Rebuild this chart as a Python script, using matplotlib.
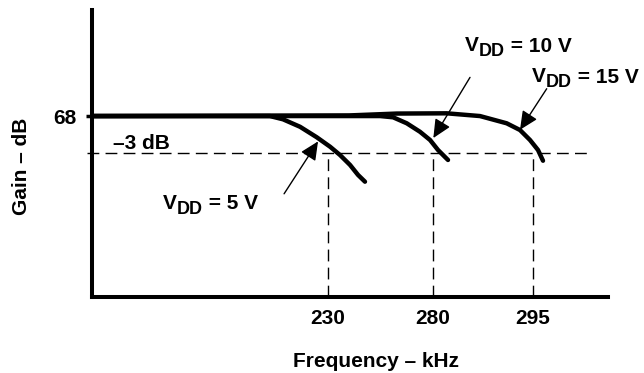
#!/usr/bin/env python

import numpy as np
import matplotlib
matplotlib.use("Agg")
import matplotlib.pyplot as plt

plt.rcParams['font.family'] = ['Liberation Sans', 'DejaVu Sans']
plt.rcParams['font.weight'] = 'bold'

# gain curves (kHz, dB)
freq_5v = [100, 150, 198, 205.2, 214.6, 223.8, 231.0, 235.7, 240.5, 244.3, 247.6]
gain_5v = [68.0, 68.0, 68.0, 67.74, 67.14, 66.30, 65.54, 64.88, 64.08, 63.28, 62.74]

freq_10v = [100, 200, 254.8, 261.0, 267.5, 273.8, 278.6, 280.75, 282.25]
gain_10v = [68.0, 68.0, 68.0, 67.9, 67.42, 66.74, 66.08, 65.28, 64.48]

freq_15v = [100, 240, 262.7, 282.05, 287.05, 291.05, 293.05, 294.55, 296.0, 297.0]
gain_15v = [68.0, 68.05, 68.2, 68.22, 68.0, 67.42, 66.88, 66.08, 65.28, 64.42]

mid_gain = 68
cutoff_freqs = [230, 280, 295]
xtick_labels = ['230', '280', '295']
ytick_labels = ['68']

# the frequency axis of the original is not to scale, so stretch it piecewise
KNOT_F = [0, 100, 230, 280, 295, 310, 400]
KNOT_U = [-89.5, 92, 328, 433, 533, 608, 1058]

def fwd(f):
    return np.interp(f, KNOT_F, KNOT_U)

def inv(u):
    return np.interp(u, KNOT_U, KNOT_F)


def vddLabel(ax, x, y, rest):
    # V with a lowered DD, then the rest of the text
    t1 = ax.text(x, y, "V", fontsize=15, va='baseline', ha='left')
    t2 = ax.annotate("DD", xy=(1, 0), xycoords=t1, xytext=(0, -3.5),
                     textcoords='offset points', fontsize=13, va='bottom', ha='left')
    ax.annotate(rest, xy=(1, 0), xycoords=t2, xytext=(0, 3.2),
                textcoords='offset points', fontsize=15, va='bottom', ha='left')


def pointAt(ax, tip, tail):
    ax.annotate("", xy=tip, xytext=tail,
                arrowprops=dict(arrowstyle='-|>,head_length=0.75,head_width=0.35',
                                mutation_scale=15, lw=1, color='black',
                                shrinkA=0, shrinkB=0))


fig = plt.figure(figsize=(6.44, 3.73), dpi=100)
ax = fig.add_axes([0.1429, 0.2038, 0.8012, 0.7694])
ax.set_xscale('function', functions=(fwd, inv))
ax.set_xlim(100, 310)
ax.set_ylim(53.5, 76.5)

for s in ['top', 'right']:
    ax.spines[s].set_visible(False)
for s in ['left', 'bottom']:
    ax.spines[s].set_linewidth(2.9)

dash = (0, (8.5, 4.5))
cut_level = mid_gain - 3
ax.plot([97.2, 306.6], [cut_level, cut_level], color='black', lw=1,
        linestyle=dash, clip_on=False)
ax.vlines(cutoff_freqs, 53.5, cut_level, colors='black', lw=1, linestyles=dash)

for f, g in [(freq_5v, gain_5v), (freq_10v, gain_10v), (freq_15v, gain_15v)]:
    ax.plot(f, g, color='black', lw=3.2, solid_capstyle='round')

ax.set_xticks(cutoff_freqs)
ax.set_xticklabels(xtick_labels, fontsize=15)
ax.set_yticks([mid_gain])
ax.set_yticklabels(ytick_labels, fontsize=15)
ax.tick_params(axis='x', length=0, pad=8.5)
ax.tick_params(axis='y', length=4, width=2.5, pad=7)

ax.text(111.6, 65.32, "\u20133 dB", fontsize=15, va='baseline', ha='left')

vddLabel(ax, 138.9, 60.58, " = 5 V")
vddLabel(ax, 284.8, 73.2, " = 10 V")
vddLabel(ax, 294.8, 70.7, " = 15 V")

pointAt(ax, (224.5, 65.97), (205.8, 61.77))
pointAt(ax, (280.05, 66.24), (285.55, 71.1))
pointAt(ax, (293.05, 66.9), (297.74, 70.19))

ax.text(-0.136, 0.456, "Gain \u2013 dB", transform=ax.transAxes, rotation=90,
        fontsize=15, ha='center', va='center')
ax.text(0.550, -0.226, "Frequency \u2013 kHz", transform=ax.transAxes,
        fontsize=15, ha='center', va='center')

fig.savefig("out.png", dpi=100)
